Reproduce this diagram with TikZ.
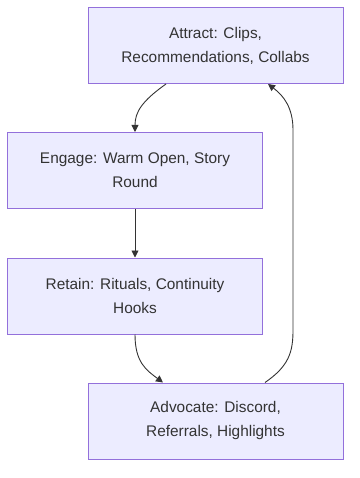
\documentclass[tikz,border=0pt]{standalone}
\usepackage{fontspec}
\setmainfont{Liberation Sans}
\usetikzlibrary{arrows.meta}

\definecolor{boxfill}{HTML}{ECECFF}
\definecolor{boxline}{HTML}{9370DB}
\definecolor{ink}{HTML}{333333}

\begin{document}
\begin{tikzpicture}[x=1pt, y=-1pt,
        stage/.style={draw=boxline, fill=boxfill, line width=1pt, minimum width=255pt,
            minimum height=76pt, align=center, text=ink,
            font=\fontsize{15.4pt}{24pt}\selectfont},
        flow/.style={draw=ink, line width=0.9pt, -{Triangle[length=7pt,width=7pt]}}]
        \useasboundingbox (0,0) rectangle (359,478);

        % stages of the loop
        \node[stage] (attract) at (215.5, 45.5) {Attract: Clips,\\Recommendations, Collabs};
        \node[stage] (engage) at (135, 170.5) {Engage: Warm Open, Story\\Round};
        \node[stage] (retain) at (135, 296) {Retain: Rituals, Continuity\\Hooks};
        \node[stage] (advocate) at (215.5, 421) {Advocate: Discord,\\Referrals, Highlights};

        % down the funnel
        \draw[flow] ([xshift=-49.5pt]attract.south) .. controls (142,101) and (135,112) .. (engage.north);
        \draw[flow] (engage.south) -- (retain.north);
        \draw[flow] (retain.south) .. controls (135,362) and (146,370) .. ([xshift=-52.5pt]advocate.north);

        % back to the top
        \draw[flow] ([xshift=49.5pt]advocate.north) .. controls (289,366) and (293,352) .. (293,330)
            -- (293,130) .. controls (293,108) and (284,96) .. ([xshift=52.5pt]attract.south);
\end{tikzpicture}
\end{document}
